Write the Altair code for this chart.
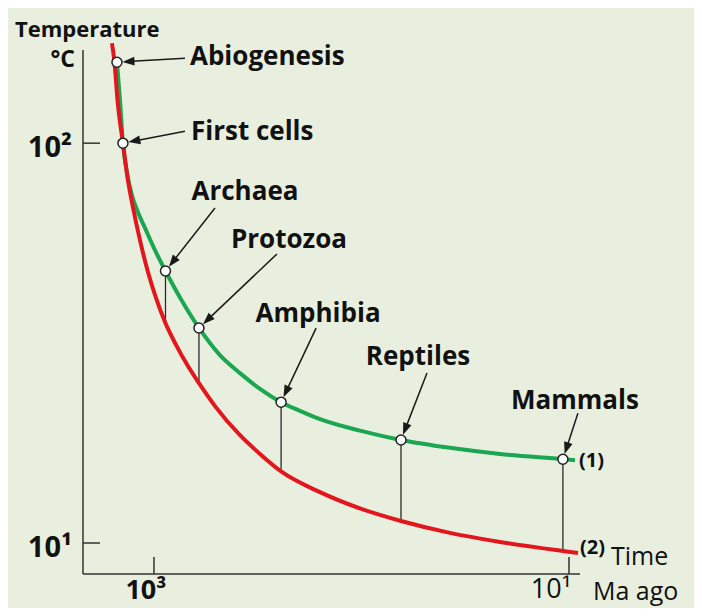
import math
import pandas as pd
import altair as alt

# ---------------- data ----------------
green_time = [1508, 1458, 1411, 1350, 1277, 1194, 1093, 989, 880, 741, 607, 481, 385, 308.5, 244,
              197.9, 158.5, 101.7, 64.5, 37.5, 21.5, 10.7, 9.35]
green_temp = [159.4, 128.1, 100, 84.6, 74.1, 67.2, 60.6, 54.0, 47.9, 40.7, 34.5, 29.5, 26.6, 24.3, 22.5,
              21.4, 20.4, 19.1, 18.1, 17.3, 16.7, 16.2, 16.1]

red_time = [1594, 1550, 1499, 1411, 1335, 1263, 1168, 1069, 978, 885, 783, 686, 607, 508, 385, 308.5,
            244, 158.5, 101.7, 64.5, 37.5, 21.5, 10.7, 9.05]
red_temp = [177.8, 159.4, 128.1, 100, 80.8, 69.2, 57.2, 47.6, 41.0, 35.7, 31.3, 27.7, 25.1, 22.0, 18.6, 16.7,
            15.1, 13.4, 12.2, 11.35, 10.6, 10.06, 9.55, 9.44]

event_names = ["Abiogenesis", "First cells", "Archaea", "Protozoa", "Amphibia", "Reptiles", "Mammals"]
event_time = [1508, 1411, 880, 607, 244, 64.5, 10.7]
event_temp = [159.4, 100, 47.9, 34.5, 22.5, 18.1, 16.2]
drop_to_temp = [None, None, 35.5, 25.1, 15.1, 11.35, 9.55]

y_tick_values = [10, 100]
y_tick_labels = ["10¹", "10²"]
x_tick_values = [1000, 10]
x_tick_labels = ["10³", "10¹"]

# ---------------- layout / style ----------------
W, H = 497, 524
X_DOM = (8.85, 2198.0)
Y_DOM = (8.365, 171.0)
FONT = "Open Sans"
TXT = "#111111"
GREEN = "#1BA651"
RED = "#E3161E"
BG = "#E9EFDF"
AX = "#333333"

LX0, LX1 = math.log10(X_DOM[0]), math.log10(X_DOM[1])
LY0, LY1 = math.log10(Y_DOM[0]), math.log10(Y_DOM[1])


def to_px(t):
    return W * (LX1 - math.log10(t)) / (LX1 - LX0)


def to_py(v):
    return H * (LY1 - math.log10(v)) / (LY1 - LY0)


def from_px(px):
    return 10 ** (LX1 - px / W * (LX1 - LX0))


def from_py(py):
    return 10 ** (LY1 - py / H * (LY1 - LY0))


xs = alt.Scale(type="log", domain=list(X_DOM), reverse=True, nice=False)
ys = alt.Scale(type="log", domain=list(Y_DOM), nice=False)


def X(f):
    return alt.X(f, type="quantitative", scale=xs, axis=None)


def Y(f):
    return alt.Y(f, type="quantitative", scale=ys, axis=None)


# annotation offsets in pixels relative to each event point: (tail dx, dy), (label dx, baseline dy), align
ann = {
    "Abiogenesis": ((68, -4), (73, 3), "left"),
    "First cells": ((62, -12), (68, -3), "left"),
    "Archaea": ((49.5, -63), (79.5, -71), "center"),
    "Protozoa": ((78, -74), (90, -80), "center"),
    "Amphibia": ((35, -74), (37, -80), "center"),
    "Reptiles": ((26, -67), (17, -75), "center"),
    "Mammals": ((15, -46), (12, -50), "center"),
}
R_CIRC = 5.5
ARROW_R = 8.0

rows_arrow, rows_lab = [], []
for name, t, v in zip(event_names, event_time, event_temp):
    (tdx, tdy), (ldx, ldy), al = ann[name]
    px, py = to_px(t), to_py(v)
    tx, ty = px + tdx, py + tdy
    dx, dy = px - tx, py - ty
    n = math.hypot(dx, dy)
    ux, uy = dx / n, dy / n
    hcx, hcy = px - ux * (R_CIRC + ARROW_R), py - uy * (R_CIRC + ARROW_R)
    ex, ey = px - ux * (R_CIRC + ARROW_R * 0.6), py - uy * (R_CIRC + ARROW_R * 0.6)
    ang = math.degrees(math.atan2(ux, -uy)) % 360
    rows_arrow.append({
        "t0": from_px(tx), "v0": from_py(ty),
        "t1": from_px(ex), "v1": from_py(ey),
        "th": from_px(hcx), "vh": from_py(hcy), "ang": ang,
    })
    rows_lab.append({"name": name, "t": from_px(px + ldx), "v": from_py(py + ldy), "align": al})

arrow_df = pd.DataFrame(rows_arrow)
lab_df = pd.DataFrame(rows_lab)

green_df = pd.DataFrame({"t": green_time, "v": green_temp, "o": list(range(len(green_time)))})
red_df = pd.DataFrame({"t": red_time, "v": red_temp, "o": list(range(len(red_time)))})
ev_df = pd.DataFrame({"name": event_names, "t": event_time, "v": event_temp, "v2": drop_to_temp})
drop_df = ev_df.dropna()
one = pd.DataFrame({"a": [0]})

layers = []

# axes lines
layers.append(alt.Chart(one).mark_rule(color=AX, strokeWidth=1.5).encode(
    x=alt.value(0), y=alt.value(0), y2=alt.value(H)))
layers.append(alt.Chart(one).mark_rule(color=AX, strokeWidth=1.5).encode(
    x=alt.value(0), x2=alt.value(W), y=alt.value(H)))

# inward ticks
layers.append(alt.Chart(pd.DataFrame({"v": y_tick_values})).mark_rule(color=AX, strokeWidth=1.5).encode(
    x=alt.value(0), x2=alt.value(17), y=Y("v")))
layers.append(alt.Chart(pd.DataFrame({"t": x_tick_values})).mark_rule(color=AX, strokeWidth=1.5).encode(
    x=X("t"), y=alt.value(H), y2=alt.value(H - 17)))

# drop lines
layers.append(alt.Chart(drop_df).mark_rule(color="#2a2a2a", strokeWidth=1.3).encode(
    x=X("t"), y=Y("v"), y2=alt.Y2("v2")))

# curves
layers.append(alt.Chart(green_df).mark_line(color=GREEN, strokeWidth=4, interpolate="monotone").encode(
    x=X("t"), y=Y("v"), order="o:Q"))
layers.append(alt.Chart(red_df).mark_line(color=RED, strokeWidth=4, interpolate="monotone").encode(
    x=X("t"), y=Y("v"), order="o:Q"))

# arrows
layers.append(alt.Chart(arrow_df).mark_rule(color="#1a1a1a", strokeWidth=1.5).encode(
    x=X("t0"), y=Y("v0"), x2=alt.X2("t1"), y2=alt.Y2("v1")))
layers.append(alt.Chart(arrow_df).mark_point(
    shape="M0,-1L-0.55,0.5L0.55,0.5Z", filled=True, color="#1a1a1a", size=256, opacity=1).encode(
    x=X("th"), y=Y("vh"), angle=alt.Angle("ang:Q", scale=None)))

# event circles
layers.append(alt.Chart(ev_df).mark_point(
    shape="circle", filled=True, fill="white", stroke="#222222", strokeWidth=1.5, size=100, opacity=1).encode(
    x=X("t"), y=Y("v")))

# event labels
for al in ["left", "center"]:
    layers.append(alt.Chart(lab_df[lab_df["align"] == al]).mark_text(
        align=al, baseline="alphabetic", font=FONT, fontSize=26, fontWeight="bold", color=TXT).encode(
        x=X("t"), y=Y("v"), text="name:N"))


def label(text, x, y, size, weight="bold", align="left", baseline="alphabetic"):
    return alt.Chart(pd.DataFrame({"s": [text]})).mark_text(
        align=align, baseline=baseline, font=FONT, fontSize=size, fontWeight=weight, color=TXT).encode(
        x=alt.value(x), y=alt.value(y), text="s:N")


# tick labels
for v, lab in zip(y_tick_values, y_tick_labels):
    layers.append(label(lab, -11, to_py(v) + 14, 29, align="right"))
layers.append(label(x_tick_labels[0], to_px(x_tick_values[0]) - 8, 549, 27, align="center"))
layers.append(label(x_tick_labels[1], to_px(x_tick_values[1]) - 18, 548, 27, align="center", weight="normal"))

# axis titles & curve tags
layers.append(label("Temperature", -68, -13, 22))
layers.append(label("°C", -8, 17, 23, align="right"))
layers.append(label("Time", 528, 515, 25, weight="normal"))
layers.append(label("Ma ago", 510, 550, 25, weight="normal"))
layers.append(label("(1)", 496, 417, 20))
layers.append(label("(2)", 497, 504, 20))

chart = alt.layer(*layers).properties(
    width=W, height=H,
    autosize=alt.AutoSizeParams(type="none"),
    padding={"left": 75, "top": 42, "right": 114, "bottom": 34},
    background=BG,
).configure_view(strokeWidth=0)

chart.save("out.html", embed_options={"renderer": "svg", "actions": False})
